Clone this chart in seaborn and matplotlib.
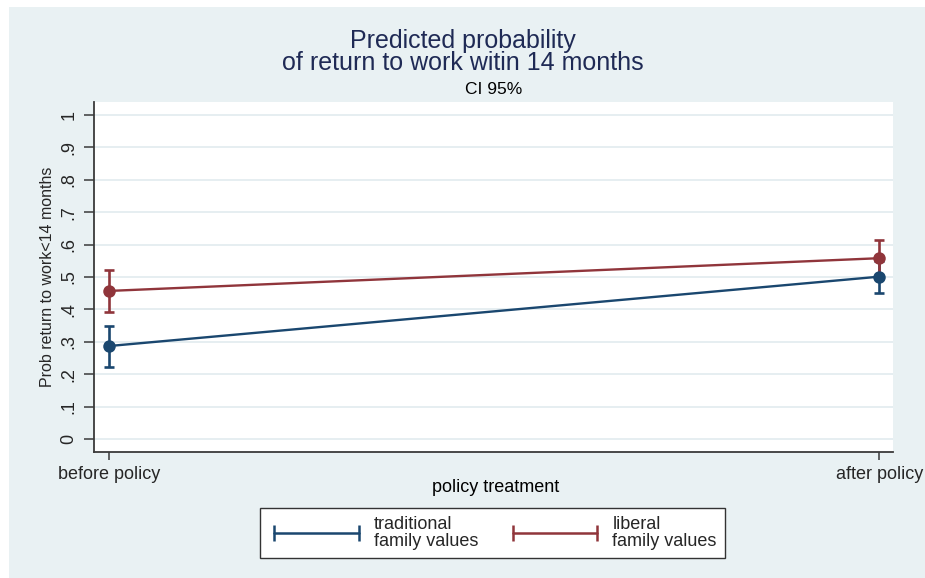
import numpy as np
import pandas as pd
import matplotlib
matplotlib.use("Agg")
import matplotlib.pyplot as plt
from matplotlib.patches import Rectangle
from matplotlib.lines import Line2D
import seaborn as sns

# Predicted probabilities with 95% confidence intervals
phases = ["before policy", "after policy"]
groups = ["traditional\nfamily values", "liberal\nfamily values"]
trad_prob = [0.287, 0.501]
trad_lo = [0.222, 0.452]
trad_hi = [0.350, 0.550]
lib_prob = [0.457, 0.558]
lib_lo = [0.392, 0.502]
lib_hi = [0.522, 0.614]
ytick_vals = [0, 0.1, 0.2, 0.3, 0.4, 0.5, 0.6, 0.7, 0.8, 0.9, 1.0]
ytick_labels = ["0", ".1", ".2", ".3", ".4", ".5", ".6", ".7", ".8", ".9", "1"]

NAVY = "#1A476F"
MAROON = "#90353B"
PANEL = "#E9F1F3"
GRID = "#E6EEF1"

sns.set_style("white")
plt.rcParams["font.family"] = ["Liberation Sans", "DejaVu Sans"]

df = pd.DataFrame({
    "pos": list(range(len(phases))) * 2,
    "prob": trad_prob + lib_prob,
    "lo": trad_lo + lib_lo,
    "hi": trad_hi + lib_hi,
    "group": [groups[0]] * len(phases) + [groups[1]] * len(phases),
})
palette = {groups[0]: NAVY, groups[1]: MAROON}

fig = plt.figure(figsize=(9.25, 5.78), dpi=100, facecolor="white")
# light graph-region panel behind everything
fig.patches.append(Rectangle((9 / 925, 0), 1 - 9 / 925, 1 - 7 / 578,
                             transform=fig.transFigure, facecolor=PANEL,
                             edgecolor="none", zorder=-5))

ax = fig.add_axes([94 / 925, 1 - 452 / 578, (893 - 94) / 925, (452 - 102) / 578])
ax.set_zorder(1)
ax.set_facecolor("white")

# confidence interval caps
for g in groups:
    sub = df[df["group"] == g]
    ax.errorbar(sub["pos"], sub["prob"],
                yerr=[sub["prob"] - sub["lo"], sub["hi"] - sub["prob"]],
                fmt="none", ecolor=palette[g], elinewidth=1.9,
                capsize=3.8, capthick=1.9, zorder=3)

# connected point estimates
sns.lineplot(data=df, x="pos", y="prob", hue="group", hue_order=groups,
             palette=palette, marker="o", markersize=9, markeredgewidth=0,
             linewidth=1.7, legend=False, ax=ax, zorder=4)

ax.set_xlim(-0.0195, 1.018)
ax.set_ylim(-0.04, 1.04)
ax.set_xticks(range(len(phases)))
ax.set_xticklabels(phases, fontsize=13)
ax.set_yticks(ytick_vals)
ax.set_yticklabels(ytick_labels, fontsize=13, rotation=90, va="center")
ax.set_xlabel("")
ax.set_ylabel("Prob return to work<14 months", fontsize=11.5, labelpad=4)

for y in ytick_vals:
    ax.axhline(y, color=GRID, lw=1.4, zorder=1)

for side in ["top", "right"]:
    ax.spines[side].set_visible(False)
for side in ["left", "bottom"]:
    ax.spines[side].set_color("#3a3a3a")
    ax.spines[side].set_linewidth(1.3)
ax.tick_params(axis="y", length=7, width=1.1, color="#3a3a3a", pad=5, left=True)
ax.tick_params(axis="x", length=6, width=1.1, color="#3a3a3a", pad=4, bottom=True)

# titles
fig.text(0.5, 1 - 41 / 578, "Predicted probability", ha="center", va="center",
         fontsize=18, color="#1F2A55")
fig.text(0.5, 1 - 63.5 / 578, "of return to work witin 14 months", ha="center",
         va="center", fontsize=18, color="#1F2A55")
fig.text(494 / 925, 1 - 90 / 578, "CI 95%", ha="center", va="center",
         fontsize=12.5, color="black")
fig.text(496 / 925, 1 - 488 / 578, "policy treatment", ha="center", va="center",
         fontsize=13, color="black")

# legend with capped-range symbols
handles = [Line2D([], [], color=palette[g], lw=1.8, marker="|", markersize=11,
                  markeredgewidth=1.8) for g in groups]
leg = fig.legend(handles, groups, loc="center",
                 bbox_to_anchor=(492.5 / 925, 1 - 533 / 578), ncol=2,
                 numpoints=2, handlelength=5.3, handletextpad=0.53,
                 columnspacing=1.62, fontsize=13, frameon=True, fancybox=False,
                 borderpad=0.45, labelspacing=0.2, edgecolor="#333333",
                 framealpha=1)
leg.get_frame().set_linewidth(1.0)
for t in leg.get_texts():
    t.set_linespacing(0.95)

fig.savefig("out.png", dpi=100, facecolor="white")
